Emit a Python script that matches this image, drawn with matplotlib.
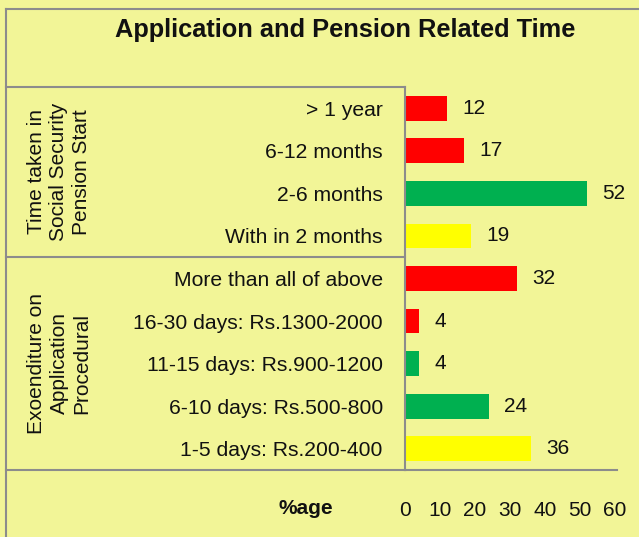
import matplotlib.pyplot as plt
from matplotlib.lines import Line2D

plt.rcParams['font.family'] = ['Liberation Sans', 'DejaVu Sans']

# Data (top to bottom)
categories = ["> 1 year", "6-12 months", "2-6 months", "With in 2 months",
              "More than all of above", "16-30 days: Rs.1300-2000",
              "11-15 days: Rs.900-1200", "6-10 days: Rs.500-800",
              "1-5 days: Rs.200-400"]
values = [12, 17, 52, 19, 32, 4, 4, 24, 36]
bar_colors = ["#FF0000", "#FF0000", "#00B050", "#FFFF00",
              "#FF0000", "#FF0000", "#00B050", "#00B050", "#FFFF00"]
groups = ["Time taken in\nSocial Security\nPension Start",
          "Exoenditure on\nApplication\nProcedural"]
xticks = [0, 10, 20, 30, 40, 50, 60]

bg = "#F2F597"
grey = "#8C8C8C"
W, H = 639, 537

fig = plt.figure(figsize=(W / 100, H / 100), dpi=100)
fig.patch.set_facecolor(bg)


def fx(px):
    return px / W


def fy(py):
    return 1 - py / H


# bar axes: x 405..617, y 87..470 (pixels from top-left)
ax = fig.add_axes([fx(405), fy(470), fx(617) - fx(405), (470 - 87) / H])
ax.set_facecolor(bg)
ypos = list(range(len(categories)))
ax.barh(ypos, values, height=0.58, color=bar_colors)
for y, v in zip(ypos, values):
    ax.text(v + 4.4, y, str(v), va="center", ha="left", fontsize=15, color="#111111")

ax.set_xlim(0, 60.6)
ax.set_ylim(len(categories) - 0.5, -0.5)
ax.set_yticks(ypos)
ax.set_yticklabels(categories, fontsize=15.2, color="#111111")
ax.set_xticks(xticks)
ax.set_xticklabels([str(t) for t in xticks], fontsize=15, color="#111111")
ax.tick_params(axis="y", length=0, pad=16)
ax.tick_params(axis="x", length=0, pad=22)
for s in ["top", "right"]:
    ax.spines[s].set_visible(False)
for s in ["left", "bottom"]:
    ax.spines[s].set_color(grey)
    ax.spines[s].set_linewidth(1.5)


def hline(y, x0, x1):
    fig.add_artist(Line2D([fx(x0), fx(x1)], [fy(y), fy(y)], color=grey, lw=1.5))


def vline(x, y0, y1):
    fig.add_artist(Line2D([fx(x), fx(x)], [fy(y0), fy(y1)], color=grey, lw=1.5))


# outer frame
hline(9, 6, W + 2)
vline(6, 9, H + 2)
# inner table lines
hline(87, 6, 405)
hline(257, 6, 405)
hline(470, 6, 405)

# group labels
fig.text(fx(59), fy(172), groups[0], rotation=90, ha="center", va="center",
         fontsize=15, linespacing=1.22, color="#111111")
fig.text(fx(59), fy(363), groups[1], rotation=90, ha="center", va="center",
         fontsize=15, linespacing=1.22, color="#111111")

fig.text(fx(345), fy(37), "Application and Pension Related Time", ha="center",
         va="baseline", fontsize=18.3, fontweight="bold", color="#111111")
fig.text(fx(306), fy(508), "%age", ha="center", va="center", fontsize=15,
         fontweight="bold", color="#111111")

fig.savefig("out.png", dpi=100, facecolor=bg)
